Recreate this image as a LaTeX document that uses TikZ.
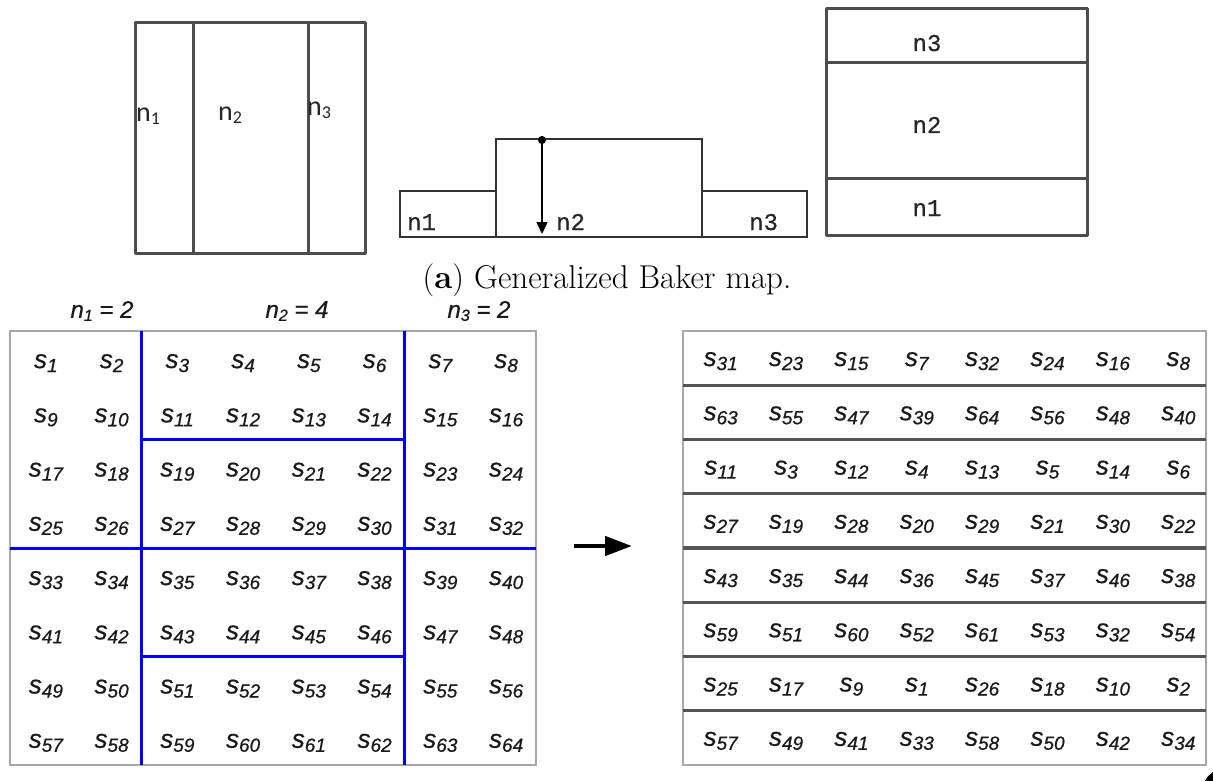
\documentclass[tikz,border=0pt]{standalone}
\usepackage{fontspec}
\usetikzlibrary{arrows.meta}
\newfontfamily\cellfont[FakeBold=0.6]{Liberation Sans}
\newfontfamily\calfont{Carlito}
\newfontfamily\typfont[FakeBold=0.7]{Liberation Mono}
\definecolor{figline}{HTML}{4D4D4D}
\definecolor{gridgray}{HTML}{A8A8A8}
\definecolor{rowline}{HTML}{555555}
\definecolor{labcol}{HTML}{1A1A1A}
\newcommand\sv[1]{{\fontsize{26}{26}\selectfont\itshape s}\raisebox{-4pt}{\fontsize{19}{19}\selectfont\itshape #1}}
\newcommand\hd[2]{{\cellfont\itshape\fontsize{24}{24}\selectfont n\raisebox{-3pt}{\fontsize{16}{16}\selectfont #1} = #2}}
\newcommand\cn[1]{{\calfont\fontsize{28}{28}\selectfont n\raisebox{-3pt}{\fontsize{18}{18}\selectfont #1}}}
\tikzset{
  figbox/.style={draw=figline, line width=3pt, line join=round},
  midbox/.style={draw=black!80, line width=2.2pt},
  gridborder/.style={draw=gridgray, line width=1.8pt},
  blueline/.style={draw=blue, line width=3pt},
  rowsep/.style={draw=rowline, line width=3.2pt},
  cell/.style={inner sep=0pt, font=\cellfont, text=labcol},
  toplab/.style={inner sep=0pt, text=black!85},
  typlab/.style={inner sep=0pt, font=\typfont\fontsize{24}{24}\selectfont, text=black!85}
}
\begin{document}
\begin{tikzpicture}[x=1pt,y=-1pt]
\useasboundingbox (0,0) rectangle (1213,781);
\fill[white] (0,0) rectangle (1213,781);

% ---- top left figure
\draw[figbox] (135,23) rectangle (365,253);
\draw[figbox] (193,23) -- (193,253);
\draw[figbox] (308,23) -- (308,253);
\node[toplab, anchor=base west] (tn1) at (136,122) {\cn{1}};
\node[toplab, anchor=base west] (tn2) at (218,121) {\cn{2}};
\node[toplab, anchor=base west] (tn3) at (307,116) {\cn{3}};

% ---- middle figure
\draw[midbox] (400,191) rectangle (496,237);
\draw[midbox] (496,139) rectangle (702,237);
\draw[midbox] (702,191) rectangle (807,237);
\coordinate (mtop) at (542,136);
\coordinate (mbot) at (542,234);
\draw[line width=1.6pt, {Circle[length=8pt]}-{Triangle[length=12pt,width=11pt]}] (mtop) -- (mbot);
\node[typlab, anchor=base west] (mn1) at (407,230) {n1};
\node[typlab, anchor=base west] (mn2) at (556,230) {n2};
\node[typlab, anchor=base west] (mn3) at (749,230) {n3};

% ---- right figure
\draw[figbox] (826,9) rectangle (1087,235);
\draw[figbox] (826,63) -- (1089,63);
\draw[figbox] (826,178) -- (1089,178);
\node[typlab, anchor=base] (rn3) at (927,51) {n3};
\node[typlab, anchor=base] (rn2) at (927,133) {n2};
\node[typlab, anchor=base] (rn1) at (927,216) {n1};

% ---- caption
\node[inner sep=0pt, font=\fontsize{33}{33}\selectfont] (cap) at (607,280) {(\textbf{a}) Generalized Baker map.};

% ---- header labels
\node[inner sep=0pt, text=labcol] (h1) at (102,311) {\hd{1}{2}};
\node[inner sep=0pt, text=labcol] (h2) at (297,311) {\hd{2}{4}};
\node[inner sep=0pt, text=labcol] (h3) at (479,311) {\hd{3}{2}};

% ---- left grid
\draw[gridborder] (10,331) rectangle (536,765);
\foreach \r in {0,...,7} {
  \foreach \c in {0,...,7} {
    \pgfmathtruncatemacro\k{8*\r+\c+1}
    \node[cell] (L\k) at ({10+65.75*(\c+0.5)+3},{331+54.25*(\r+0.5)+5}) {\sv{\k}};
  }
}
\draw[blueline] (141.5,331) -- (141.5,765);
\draw[blueline] (404.5,331) -- (404.5,765);
\draw[blueline] (10,548) -- (536,548);
\draw[blueline] (141.5,439.5) -- (404.5,439.5);
\draw[blueline] (141.5,656.5) -- (404.5,656.5);

% ---- arrow
\coordinate (a1) at (574,546);
\coordinate (a2) at (632,546);
\draw[line width=4.5pt, -{Triangle[length=27pt,width=19pt]}] (a1) -- (a2);

% ---- right grid
\draw[gridborder] (683,331) rectangle (1206,765);
\foreach \y in {385.25,439.5,493.75,548,602.25,656.5,710.75} {
  \draw[rowsep] (683,\y) -- (1206,\y);
}
\foreach \v [count=\i from 0] in {31,23,15,7,32,24,16,8,
  63,55,47,39,64,56,48,40,
  11,3,12,4,13,5,14,6,
  27,19,28,20,29,21,30,22,
  43,35,44,36,45,37,46,38,
  59,51,60,52,61,53,32,54,
  25,17,9,1,26,18,10,2,
  57,49,41,33,58,50,42,34} {
  \pgfmathtruncatemacro\r{div(\i,8)}
  \pgfmathtruncatemacro\c{mod(\i,8)}
  \node[cell] (R\i) at ({683+65.375*(\c+0.5)+5},{331+54.25*(\r+0.5)+3}) {\sv{\v}};
}

% ---- corner mark
\fill[black] (1213,772) -- (1213,781) -- (1205,781) .. controls (1207,777) .. cycle;
\end{tikzpicture}
\end{document}
